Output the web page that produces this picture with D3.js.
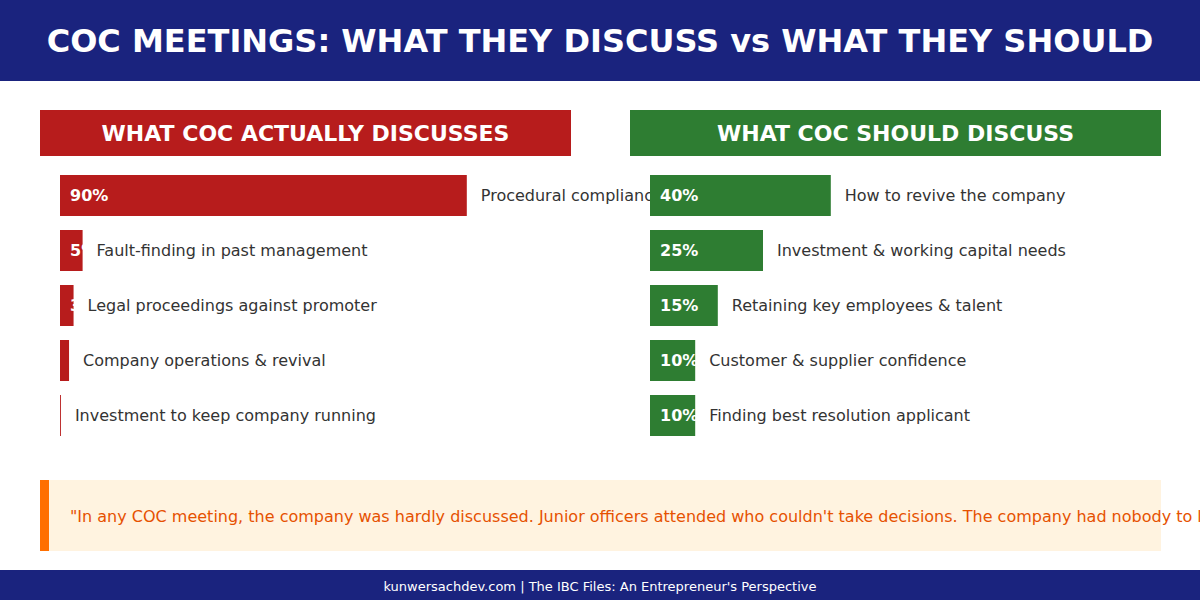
<!DOCTYPE html>
<html>
<head>
<meta charset="utf-8">
<script src="https://cdn.jsdelivr.net/npm/d3@7"></script>
<style>
  html, body { margin: 0; padding: 0; background: #ffffff; }
  svg { display: block; font-family: "DejaVu Sans", sans-serif; }
</style>
</head>
<body>
<svg id="chart" width="1200" height="600"></svg>
<script>
const titleText = "COC MEETINGS: WHAT THEY DISCUSS vs WHAT THEY SHOULD";
const leftTitle = "WHAT COC ACTUALLY DISCUSSES";
const rightTitle = "WHAT COC SHOULD DISCUSS";
const actualCategories = ["Procedural compliance", "Fault-finding in past management", "Legal proceedings against promoter", "Company operations & revival", "Investment to keep company running"];
const actualValues = [90, 5, 3, 2, 0.2];
const actualLabels = ["90%", "5%", "3%", "2%", "0%"];
const shouldCategories = ["How to revive the company", "Investment & working capital needs", "Retaining key employees & talent", "Customer & supplier confidence", "Finding best resolution applicant"];
const shouldValues = [40, 25, 15, 10, 10];
const shouldLabels = ["40%", "25%", "15%", "10%", "10%"];
const quoteText = "\"In any COC meeting, the company was hardly discussed. Junior officers attended who couldn't take decisions. The company had nobody to look after it.\"";
const footerText = "kunwersachdev.com | The IBC Files: An Entrepreneur's Perspective";

const W = 1200, H = 600;
const svg = d3.select("#chart");

// Title band
svg.append("rect").attr("x", 0).attr("y", 0).attr("width", W).attr("height", 81).attr("fill", "#1a237e");
svg.append("text").attr("x", W / 2).attr("y", 41).attr("text-anchor", "middle").attr("dominant-baseline", "central")
  .attr("fill", "#ffffff").attr("font-size", 32).attr("font-weight", "bold").text(titleText);

function panel(x0, title, color, cats, vals, labels) {
  const pw = 531;
  const g = svg.append("g").attr("transform", `translate(${x0},0)`);
  g.append("rect").attr("x", 0).attr("y", 110).attr("width", pw).attr("height", 46).attr("fill", color);
  g.append("text").attr("x", pw / 2).attr("y", 133).attr("text-anchor", "middle").attr("dominant-baseline", "central")
    .attr("fill", "#fff").attr("font-size", 22).attr("font-weight", "bold").text(title);

  const x = d3.scaleLinear().domain([0, 100]).range([0, 452]);
  const y = d3.scaleBand().domain(d3.range(cats.length))
    .range([175, 175 + 55 * cats.length - 14]).paddingInner(14 / 55).paddingOuter(0);
  const rows = g.selectAll("g.row").data(cats.map((c, i) => ({ c, v: vals[i], l: labels[i], i }))).enter()
    .append("g").attr("class", "row");
  rows.append("rect").attr("x", 20).attr("y", d => y(d.i)).attr("width", d => x(d.v)).attr("height", y.bandwidth()).attr("fill", color);
  rows.append("text").attr("x", 30).attr("y", d => y(d.i) + y.bandwidth() / 2).attr("dominant-baseline", "central")
    .attr("fill", "#fff").attr("font-size", 16).attr("font-weight", "bold").text(d => d.l);
  rows.append("text").attr("x", d => 20 + x(d.v) + 14).attr("y", d => y(d.i) + y.bandwidth() / 2).attr("dominant-baseline", "central")
    .attr("fill", "#333").attr("font-size", 16).text(d => d.c);
}
panel(40, leftTitle, "#b71c1c", actualCategories, actualValues, actualLabels);
panel(630, rightTitle, "#2e7d32", shouldCategories, shouldValues, shouldLabels);

// Quote box
svg.append("rect").attr("x", 40).attr("y", 480).attr("width", 1121).attr("height", 71).attr("fill", "#fff3e0");
svg.append("rect").attr("x", 40).attr("y", 480).attr("width", 9).attr("height", 71).attr("fill", "#ff6f00");
svg.append("text").attr("x", 70).attr("y", 516).attr("dominant-baseline", "central")
  .attr("fill", "#e65100").attr("font-size", 16).text(quoteText);

// Footer
svg.append("rect").attr("x", 0).attr("y", 570).attr("width", W).attr("height", 30).attr("fill", "#1a237e");
svg.append("text").attr("x", W / 2).attr("y", 586).attr("text-anchor", "middle").attr("dominant-baseline", "central")
  .attr("fill", "#fff").attr("font-size", 13).text(footerText);
</script>
</body>
</html>
